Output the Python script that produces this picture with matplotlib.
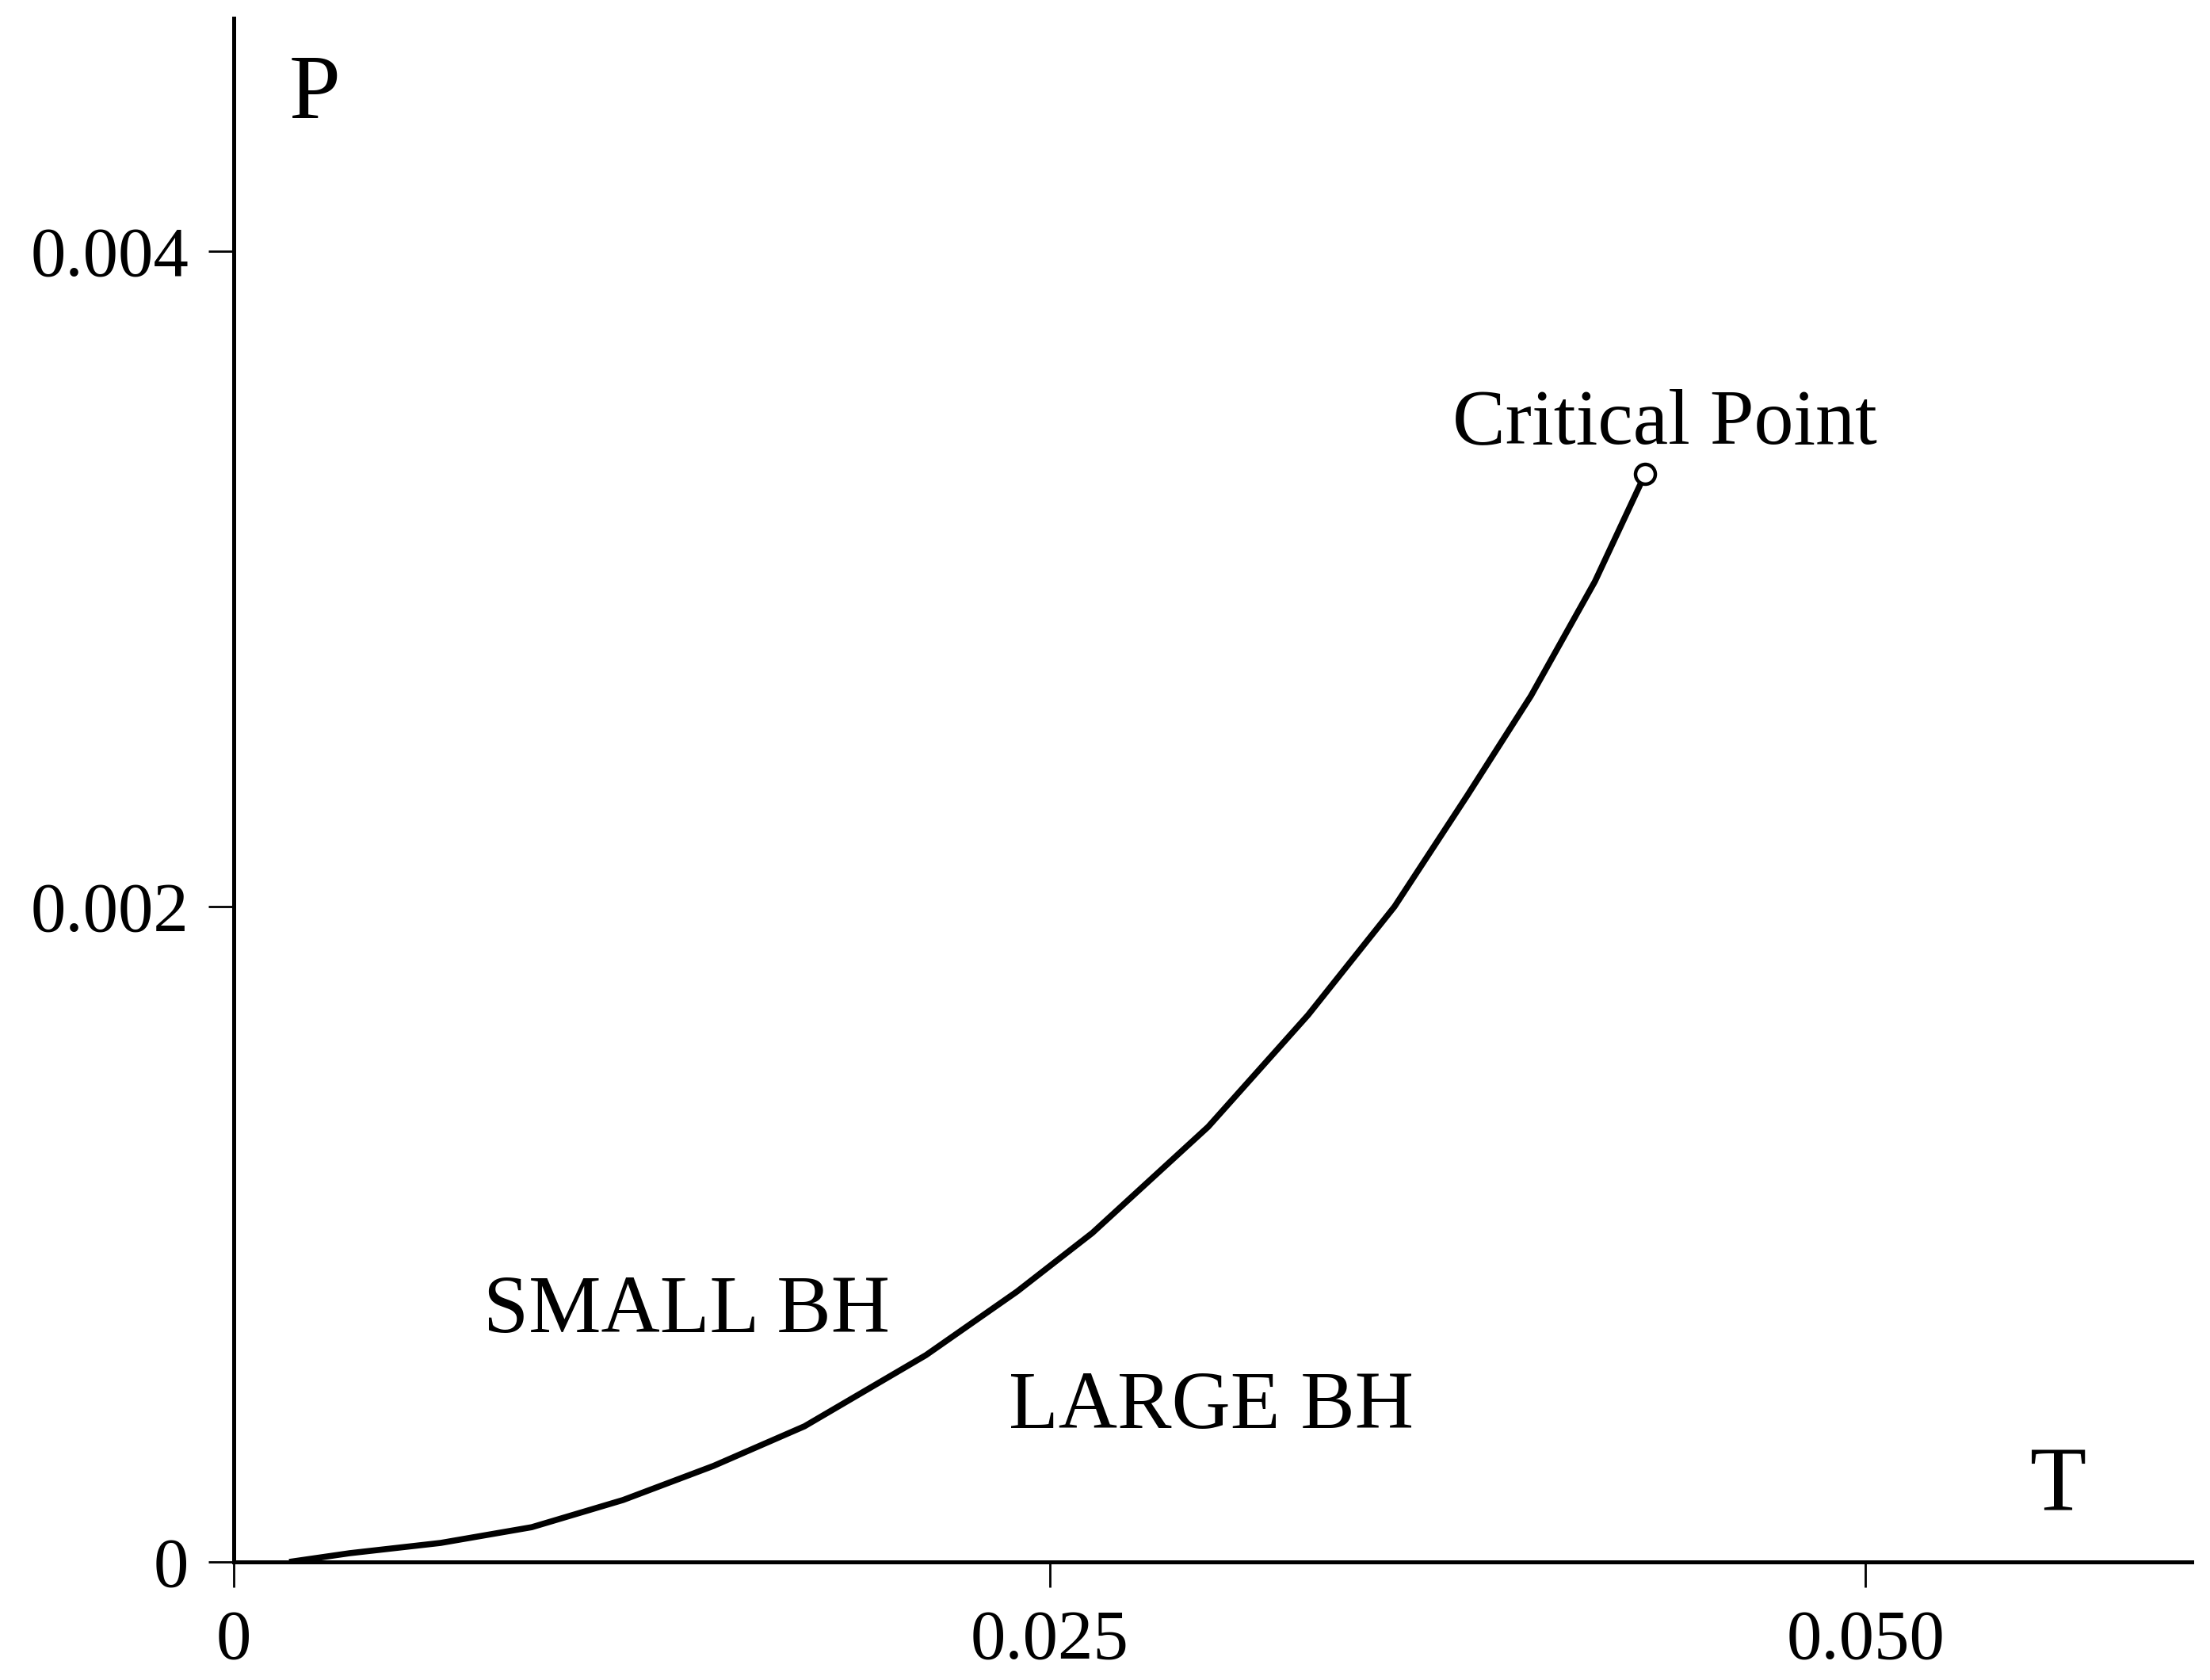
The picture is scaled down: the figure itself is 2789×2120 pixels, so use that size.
import numpy as np
import matplotlib
matplotlib.use('Agg')
import matplotlib.pyplot as plt

plt.rcParams['font.family'] = ['Liberation Serif', 'DejaVu Serif']

# ─── Données ──────────────────────────────────────────────────────────────────
T_curve = [0.00170, 0.00355, 0.00634, 0.00913, 0.01193, 0.01470, 0.01749,
           0.02121, 0.02400, 0.02631, 0.02986, 0.03292, 0.03557, 0.03780,
           0.03975, 0.04171, 0.04325]
P_curve = [0.0000000, 0.0000266, 0.0000580, 0.0001060, 0.0001890, 0.0002930,
           0.0004140, 0.0006310, 0.0008250, 0.0010040, 0.0013280, 0.0016690,
           0.0020000, 0.0023390, 0.0026430, 0.0029920, 0.0033200]
T_crit, P_crit = 0.04325, 0.00332

x_ticks = [0, 0.025, 0.050]
x_labels = ["0", "0.025", "0.050"]
y_ticks = [0, 0.002, 0.004]
y_labels = ["0", "0.002", "0.004"]

# ─── Figure ──────────────────────────────────────────────────────────────────
fig = plt.figure(figsize=(27.89, 21.20), dpi=100)
ax = fig.add_axes([0.10577, 0.07028, 0.88598, 0.91887])

ax.plot(T_curve, P_curve, color="black", linewidth=5.5, solid_capstyle="butt",
        solid_joinstyle="round")
ax.plot([T_crit], [P_crit], marker="o", markersize=18, markerfacecolor="white",
        markeredgecolor="black", markeredgewidth=3.2, linestyle="none")

ax.set_xlim(0, 0.0600)
ax.set_ylim(0, 0.004711)

for s in ["top", "right"]:
    ax.spines[s].set_visible(False)
for s in ["left", "bottom"]:
    ax.spines[s].set_linewidth(3.6)

ax.set_xticks(x_ticks)
ax.set_xticklabels(x_labels)
ax.set_yticks(y_ticks)
ax.set_yticklabels(y_labels)
ax.tick_params(axis="both", direction="out", length=23, width=2, labelsize=64)
ax.tick_params(axis="x", pad=20)
ax.tick_params(axis="y", pad=18)

ax.text(0.0017, 0.004406, "P", fontsize=84, ha="left", va="baseline")
ax.text(0.05505, 0.000155, "T", fontsize=84, ha="left", va="baseline")
ax.text(0.00765, 0.000701, "SMALL BH", fontsize=74, ha="left", va="baseline")
ax.text(0.02374, 0.000409, "LARGE BH", fontsize=74, ha="left", va="baseline")
ax.text(0.03734, 0.003415, "Critical Point", fontsize=72, ha="left", va="baseline")

plt.savefig("out.png", dpi=100)
plt.close()
